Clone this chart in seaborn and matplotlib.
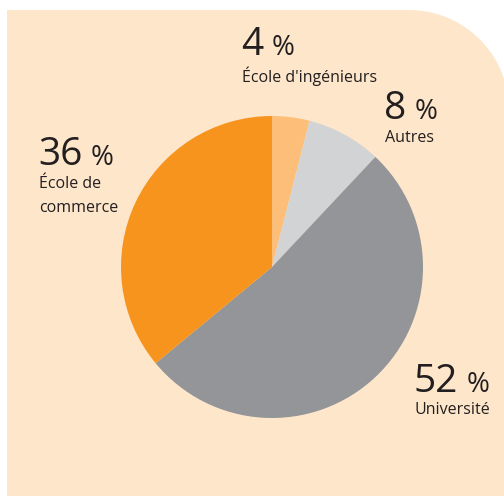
import matplotlib.pyplot as plt
import seaborn as sns
import numpy as np
from matplotlib.path import Path
from matplotlib.patches import PathPatch

sns.set_style("white")
plt.rcParams['font.family'] = ['Open Sans', 'DejaVu Sans']

# data
categories = ["École d'ingénieurs", "Autres", "Université", "École de\ncommerce"]
shares = [4, 8, 52, 36]
colors = ["#FDBE7A", "#D1D3D4", "#939598", "#F7941E"]

W, H = 504, 496
fig = plt.figure(figsize=(W / 100, H / 100), dpi=100)
ax = fig.add_axes([0, 0, 1, 1])

# panel with rounded top-right corner
x0, y0, x1, y1, r = 7, -5, W + 5, H - 10, 100
theta = np.linspace(np.pi / 2, 0, 30)
arc_x = (x1 - r) + r * np.cos(theta)
arc_y = (y1 - r) + r * np.sin(theta)
verts = [(x0, y0), (x0, y1)] + list(zip(arc_x, arc_y)) + [(x1, y0), (x0, y0)]
codes = [Path.MOVETO] + [Path.LINETO] * (len(verts) - 2) + [Path.CLOSEPOLY]
ax.add_patch(PathPatch(Path(verts, codes), facecolor="#FEE6CB", edgecolor="none", zorder=0))

ax.pie(shares, colors=colors, startangle=90, counterclock=False,
       center=(272, H - 267), radius=151, wedgeprops=dict(linewidth=0))

ax.set_xlim(0, W)
ax.set_ylim(0, H)
ax.set_axis_off()

# label positions (left x, number baseline y, label first baseline y) in pixels
label_pos = [(241, 55, 82), (384, 119, 142), (414, 392, 414), (38, 165, 188)]
txt_color = "#231F20"

fig.canvas.draw()
renderer = fig.canvas.get_renderer()
for share, cat, (lx, ny, cy) in zip(shares, categories, label_pos):
    t = ax.text(lx, H - ny, str(share), fontsize=28, color=txt_color,
                ha="left", va="baseline")
    bb = t.get_window_extent(renderer)
    ax.text(bb.x1 + 8, H - ny, "%", fontsize=20, color=txt_color,
            ha="left", va="baseline")
    for i, line in enumerate(cat.split("\n")):
        ax.text(lx + 1, H - cy - 24 * i, line, fontsize=11.5, color=txt_color,
                ha="left", va="baseline")

fig.savefig("out.png", dpi=100)
